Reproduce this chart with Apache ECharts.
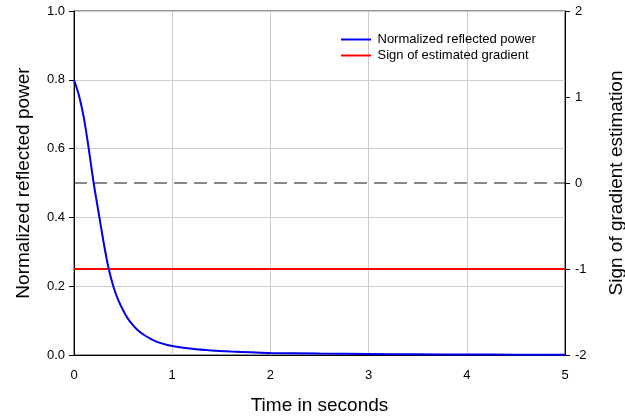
<!DOCTYPE html>
<html>
<head>
<meta charset="utf-8">
<script src="https://cdn.jsdelivr.net/npm/echarts@6/dist/echarts.min.js"></script>
<style>
  html, body { margin: 0; padding: 0; background: #fff; }
  #main { width: 625px; height: 419px; }
</style>
</head>
<body>
<div id="main"></div>
<script>
  // 时间（秒）与归一化反射功率
  var times = [0, 0.05, 0.1, 0.15, 0.2, 0.25, 0.3, 0.35, 0.4, 0.45, 0.5, 0.55, 0.6, 0.65, 0.7, 0.8, 0.9, 1.0, 1.2, 1.4, 1.6, 1.8, 2.0, 2.5, 3, 3.5, 4, 4.5, 5];
  var power = [0.8, 0.755, 0.69, 0.6, 0.5, 0.415, 0.33, 0.255, 0.2, 0.16, 0.13, 0.105, 0.087, 0.072, 0.061, 0.044, 0.033, 0.026, 0.018, 0.013, 0.01, 0.008, 0.006, 0.004, 0.003, 0.002, 0.0015, 0.001, 0.001];
  // 梯度符号（右轴）
  var signTimes = [0, 5];
  var signValues = [-1, -1];
  var zeroValues = [0, 0];

  var font = 'Liberation Sans, Arial, sans-serif';
  var myChart = echarts.init(document.getElementById('main'));

  function pairs(xs, ys) {
    return xs.map(function (x, i) { return [x, ys[i]]; });
  }

  var option = {
    animation: false,
    textStyle: { fontFamily: font },
    grid: {
      left: 74, right: 60, top: 11, bottom: 64,
      outerBoundsMode: 'none',
      show: true, borderColor: '#333', borderWidth: 1
    },
    legend: {
      orient: 'vertical',
      left: 336, top: 28,
      icon: 'path://M0,0 L30,0 L30,2 L0,2 Z',
      itemWidth: 33, itemHeight: 2, itemGap: 3,
      data: ['Normalized reflected power', 'Sign of estimated gradient'],
      textStyle: { fontSize: 13, color: '#000', fontFamily: font }
    },
    xAxis: {
      type: 'value',
      min: 0, max: 5, interval: 1,
      name: 'Time in seconds',
      nameLocation: 'middle',
      nameGap: 41,
      nameTextStyle: { fontSize: 19, color: '#000', fontFamily: font },
      axisLine: { lineStyle: { color: '#000' } },
      axisTick: { show: false },
      axisLabel: { fontSize: 13, color: '#000', margin: 14 },
      splitLine: { show: true, lineStyle: { color: '#ccc' } }
    },
    yAxis: [{
      type: 'value',
      min: 0, max: 1, interval: 0.2,
      name: 'Normalized reflected power',
      nameLocation: 'middle',
      nameGap: 41,
      nameTextStyle: { fontSize: 19, color: '#000', fontFamily: font },
      axisLine: { show: true, lineStyle: { color: '#000' } },
      axisTick: { show: true, length: 5, lineStyle: { color: '#000' } },
      axisLabel: {
        fontSize: 13, color: '#000', margin: 9,
        formatter: function (v) { return v.toFixed(1); }
      },
      splitLine: { show: true, lineStyle: { color: '#ccc' } }
    }, {
      type: 'value',
      position: 'right',
      min: -2, max: 2, interval: 1,
      name: 'Sign of gradient estimation',
      nameLocation: 'middle',
      nameGap: 42,
      nameRotate: 90,
      nameTextStyle: { fontSize: 19, color: '#000', fontFamily: font },
      axisLine: { show: true, lineStyle: { color: '#000' } },
      axisTick: { show: true, length: 5, lineStyle: { color: '#000' } },
      axisLabel: { fontSize: 13, color: '#000', margin: 10 },
      splitLine: { show: false }
    }],
    series: [{
      name: 'Sign of estimated gradient',
      type: 'line',
      yAxisIndex: 1,
      symbol: 'none',
      itemStyle: { color: '#ff0000' },
      lineStyle: { color: '#ff0000', width: 2 },
      data: pairs(signTimes, signValues)
    }, {
      name: 'zero',
      type: 'line',
      yAxisIndex: 1,
      symbol: 'none',
      silent: true,
      lineStyle: { color: '#111', width: 1, type: [13, 7] },
      data: pairs(signTimes, zeroValues)
    }, {
      name: 'Normalized reflected power',
      type: 'line',
      yAxisIndex: 0,
      symbol: 'none',
      smooth: 0.25,
      itemStyle: { color: '#0000ee' },
      lineStyle: { color: '#0000ee', width: 2 },
      data: pairs(times, power)
    }]
  };
  myChart.setOption(option);
</script>
</body>
</html>
